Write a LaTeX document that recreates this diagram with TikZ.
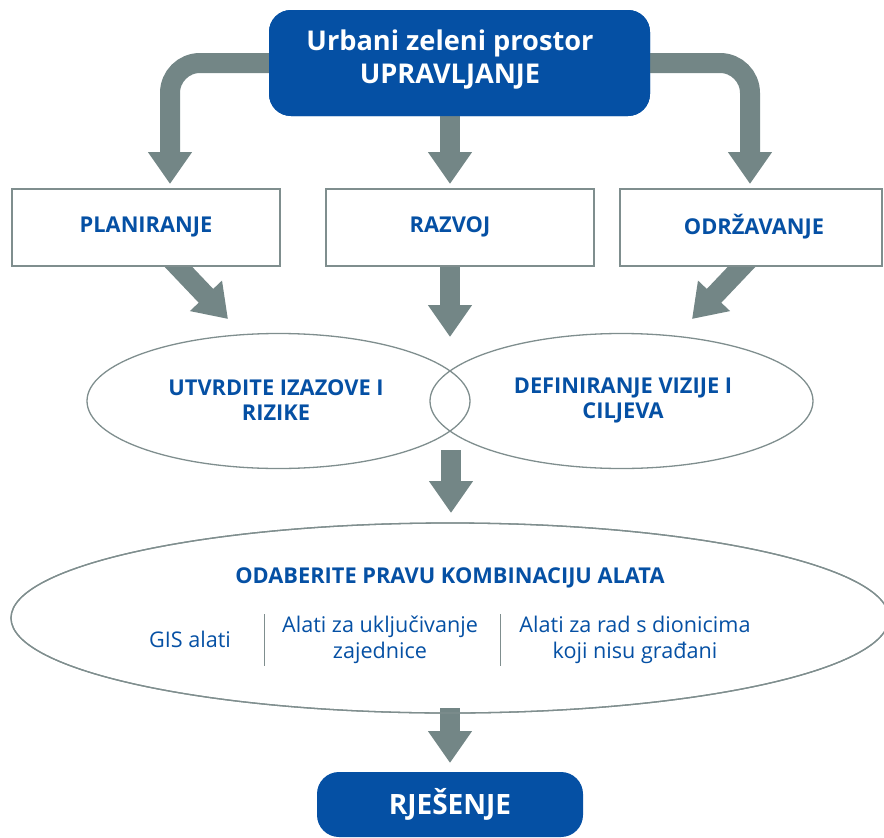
\documentclass[tikz,border=0pt]{standalone}
\usepackage{fontspec}
\setmainfont{Open Sans}
\usetikzlibrary{arrows.meta,shapes.geometric}
\definecolor{ublue}{HTML}{0550A4}
\definecolor{ugray}{HTML}{738686}
\definecolor{ustroke}{HTML}{7F8E8E}
\begin{document}
\begin{tikzpicture}[x=1pt,y=-1pt,
  band/.style={draw=ugray,line width=20pt,-{Triangle[width=42pt,length=32pt]}},
  bluebox/.style={fill=ublue,draw=none,rounded corners=22pt,inner sep=0pt},
  plainbox/.style={draw=ustroke,line width=1.3pt,fill=white,inner sep=0pt},
  oval/.style={ellipse,draw=ustroke,line width=1.3pt,inner sep=0pt},
  sepline/.style={draw=ustroke,line width=1pt},
  toptxt/.style={text=white,font=\fontsize{27.2}{33}\selectfont\bfseries,align=center,inner sep=0pt},
  hdtxt/.style={text=ublue,font=\fontsize{21.8}{25}\selectfont\bfseries,align=center,inner sep=0pt},
  tooltxt/.style={text=ublue,font=\fontsize{21.6}{26}\selectfont,align=center,inner sep=0pt}]
\useasboundingbox (0,0) rectangle (884,838);

% nodes (shapes)
\node[bluebox,minimum width=381pt,minimum height=106pt] (top) at (459.5,63) {};
\node[plainbox,minimum width=268pt,minimum height=77pt] (plan) at (146,227.5) {};
\node[plainbox,minimum width=268pt,minimum height=77pt] (razv) at (460,227.5) {};
\node[plainbox,minimum width=262pt,minimum height=77pt] (odr) at (751,227.5) {};
\node[oval,minimum width=383pt,minimum height=135pt] (eL) at (278.5,401) {};
\node[oval,minimum width=383pt,minimum height=135pt] (eR) at (621.5,401) {};
\node[oval,minimum width=878pt,minimum height=190pt] (big) at (450,618) {};
\node[bluebox,minimum width=266pt,minimum height=65pt] (res) at (450,804.5) {};

% connector coordinates
\coordinate (tlc) at (170,63);
\coordinate (tl) at (170,184);
\coordinate (tms) at (450,110);
\coordinate (tm) at (450,184);
\coordinate (trc) at (750,63);
\coordinate (tr) at (750,184);
\coordinate (p1) at (170,258);
\coordinate (p2) at (228,319);
\coordinate (r1) at (450,260);
\coordinate (r2) at (450,337);
\coordinate (o1) at (750,258);
\coordinate (o2) at (692,319);
\coordinate (e1) at (451,450);
\coordinate (e2) at (451,513);
\coordinate (b1) at (450,708);
\coordinate (b2) at (450,763);

% arrows
\draw[band,rounded corners=30pt] (top.west) -- (tlc) -- (tl);
\draw[band] (tms) -- (tm);
\draw[band,rounded corners=30pt] (top.east) -- (trc) -- (tr);
\draw[band] (p1) -- (p2);
\draw[band] (r1) -- (r2);
\draw[band] (o1) -- (o2);
\draw[band] (e1) -- (e2);
\draw[band] (b1) -- (b2);

% redraw shapes on top
\node[bluebox,minimum width=381pt,minimum height=106pt] at (top) {};
\node[plainbox,minimum width=268pt,minimum height=77pt] at (plan) {};
\node[plainbox,minimum width=268pt,minimum height=77pt] at (razv) {};
\node[plainbox,minimum width=262pt,minimum height=77pt] at (odr) {};
\node[oval,minimum width=878pt,minimum height=190pt] at (big) {};

% texts
\node[toptxt] (ttop) at (450,60) {Urbani zeleni prostor\\UPRAVLJANJE};
\node[hdtxt] (tplan) at (146,227) {PLANIRANJE};
\node[hdtxt] (trazv) at (450,227) {RAZVOJ};
\node[hdtxt] (todr) at (754,227) {ODRŽAVANJE};
\node[hdtxt] (teL) at (276,400) {UTVRDITE IZAZOVE I\\RIZIKE};
\node[hdtxt] (teR) at (623,400) {DEFINIRANJE VIZIJE I\\CILJEVA};
\node[hdtxt] (tbig) at (450,578) {ODABERITE PRAVU KOMBINACIJU ALATA};
\node[tooltxt] (gis) at (190,639) {GIS alati};
\node[tooltxt] (zaj) at (380,640) {Alati za uključivanje\\zajednice};
\node[tooltxt] (dion) at (635,640) {Alati za rad s dionicima\\koji nisu građani};
\coordinate (s1a) at (264,614);
\coordinate (s1b) at (264,666);
\coordinate (s2a) at (500,614);
\coordinate (s2b) at (500,666);
\draw[sepline] (s1a) -- (s1b);
\draw[sepline] (s2a) -- (s2b);
\node[text=white,font=\fontsize{28}{33}\selectfont\bfseries,inner sep=0pt] (tres) at (450,804) {RJEŠENJE};
\end{tikzpicture}
\end{document}
